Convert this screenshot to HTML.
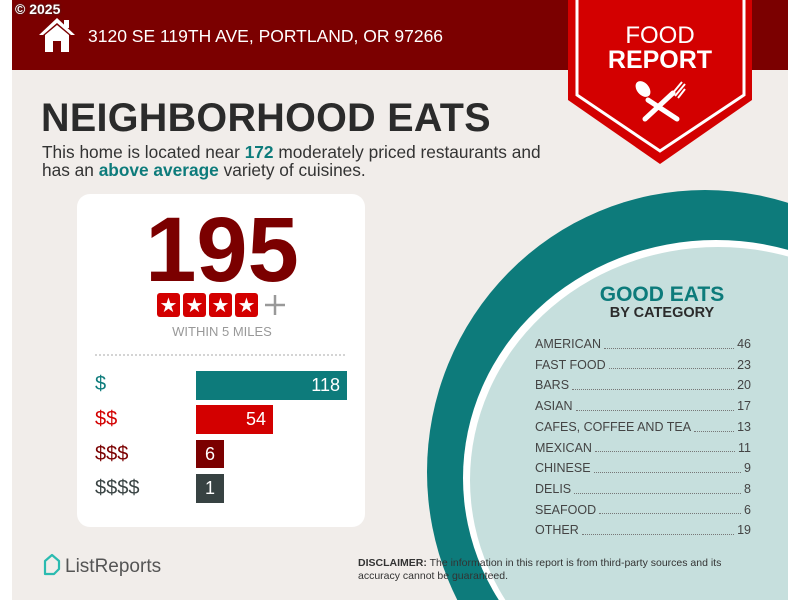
<!DOCTYPE html>
<html><head><meta charset="utf-8"><style>
*{margin:0;padding:0;box-sizing:border-box}
body{width:800px;height:600px;background:#fff;position:relative;overflow:hidden;font-family:"Liberation Sans",sans-serif}
.abs{position:absolute}
.t{white-space:nowrap}
</style></head><body>
<div class="abs" style="left:12px;top:0;width:776px;height:600px;background:#f1edea"></div>
<div class="abs" style="left:12px;top:0;width:776px;height:70px;background:#7b0000"></div>
<svg class="abs" style="left:0;top:0" width="800" height="600">
  <defs><clipPath id="c"><rect x="12" y="70" width="776" height="530"/></clipPath></defs>
  <g clip-path="url(#c)">
    <ellipse cx="705" cy="472" rx="278" ry="282" fill="#0d7b7b"/>
    <ellipse cx="716" cy="478" rx="253" ry="238" fill="#ffffff"/>
    <ellipse cx="718" cy="480" rx="248" ry="233" fill="#c6dfdd"/>
  </g>
  <polygon points="568,0 752,0 752,100 660,164 568,100" fill="#d30000"/>
  <polyline points="577,0 577,95 660,151 744,95 744,0" fill="none" stroke="#fff" stroke-width="3"/>
  <g stroke="#fff" stroke-width="5" stroke-linecap="round" fill="#fff">
    <line x1="648" y1="100" x2="677" y2="119"/>
    <line x1="673" y1="93" x2="645" y2="119"/>
  </g>
  <ellipse cx="643" cy="89" rx="6" ry="9" transform="rotate(-40 643 89)" fill="#fff"/>
  <path d="M672 94 l10 -12 M675 96 l10 -12 M678 98 l7 -9" stroke="#fff" stroke-width="2"/>
  <path d="M39 35 L57 18 L75 35 L71 35 L57 23 L43 35Z" fill="#fff"/>
  <rect x="64" y="20" width="5" height="8" fill="#fff"/>
  <path d="M45 35 L57 25 L69 35 L69 52 L61 52 L61 41 L53 41 L53 52 L45 52Z" fill="#fff"/>
</svg>
<div class="abs t" style="left:15px;top:1px;color:#fff;font-weight:bold;font-size:14px;text-shadow:0 0 2px #333">© 2025</div>
<div class="abs t" style="left:88px;top:26px;color:#fff;font-size:17.5px">3120 SE 119TH AVE, PORTLAND, OR 97266</div>
<div class="abs t" style="left:568px;top:24px;width:184px;text-align:center;color:#fff;font-size:24px;line-height:24px">FOOD<br><b style="font-size:25px">REPORT</b></div>
<div class="abs t" style="left:41px;top:96px;color:#2b2b2b;font-weight:bold;font-size:39.5px;letter-spacing:0.3px">NEIGHBORHOOD EATS</div>
<div class="abs t" style="left:42px;top:143px;color:#333;font-size:17.3px;line-height:18px">This home is located near <b style="color:#0d7b7b">172</b> moderately priced restaurants and<br>has an <b style="color:#0d7b7b">above average</b> variety of cuisines.</div>
<div class="abs" style="left:77px;top:194px;width:288px;height:333px;background:#fff;border-radius:13px"></div>
<div class="abs t" style="left:77px;top:200px;width:290px;text-align:center;color:#7b0000;font-weight:bold;font-size:92px;line-height:100px">195</div>
<div class="abs t" style="left:77px;top:324px;width:290px;text-align:center;color:#999;font-size:13px">WITHIN 5 MILES</div>
<div class="abs t" style="left:95px;top:373px;color:#0d7b7b;font-size:20px">$</div>
<div class="abs t" style="left:95px;top:408px;color:#d30000;font-size:20px">$$</div>
<div class="abs t" style="left:95px;top:443px;color:#7b0000;font-size:20px">$$$</div>
<div class="abs t" style="left:95px;top:477px;color:#3a4444;font-size:20px">$$$$</div>
<div class="abs" style="left:196px;top:371px;width:151px;height:29px;background:#0d7b7b;color:#fff;font-size:18px;text-align:right;padding-right:7px;line-height:29px">118</div>
<div class="abs" style="left:196px;top:405px;width:77px;height:29px;background:#d30000;color:#fff;font-size:18px;text-align:right;padding-right:7px;line-height:29px">54</div>
<div class="abs" style="left:196px;top:440px;width:28px;height:28px;background:#7b0000;color:#fff;font-size:18px;text-align:center;line-height:28px">6</div>
<div class="abs" style="left:196px;top:474px;width:28px;height:29px;background:#374242;color:#fff;font-size:18px;text-align:center;line-height:29px">1</div>
<div class="abs t" style="left:560px;top:283px;width:204px;text-align:center;color:#0d7b7b;font-weight:bold;font-size:21px;line-height:24px">GOOD EATS</div>
<div class="abs t" style="left:560px;top:305px;width:204px;text-align:center;color:#2b2b2b;font-weight:bold;font-size:14.5px">BY CATEGORY</div>
<div class="abs" style="left:535px;top:334px;width:216px;color:#444;font-size:12.5px;line-height:20.7px">
<div style="display:flex"><span>AMERICAN</span><span style="flex:1;border-bottom:1px dotted #777;margin:0 3px 6px"></span><span>46</span></div>
<div style="display:flex"><span>FAST FOOD</span><span style="flex:1;border-bottom:1px dotted #777;margin:0 3px 6px"></span><span>23</span></div>
<div style="display:flex"><span>BARS</span><span style="flex:1;border-bottom:1px dotted #777;margin:0 3px 6px"></span><span>20</span></div>
<div style="display:flex"><span>ASIAN</span><span style="flex:1;border-bottom:1px dotted #777;margin:0 3px 6px"></span><span>17</span></div>
<div style="display:flex"><span>CAFES, COFFEE AND TEA</span><span style="flex:1;border-bottom:1px dotted #777;margin:0 3px 6px"></span><span>13</span></div>
<div style="display:flex"><span>MEXICAN</span><span style="flex:1;border-bottom:1px dotted #777;margin:0 3px 6px"></span><span>11</span></div>
<div style="display:flex"><span>CHINESE</span><span style="flex:1;border-bottom:1px dotted #777;margin:0 3px 6px"></span><span>9</span></div>
<div style="display:flex"><span>DELIS</span><span style="flex:1;border-bottom:1px dotted #777;margin:0 3px 6px"></span><span>8</span></div>
<div style="display:flex"><span>SEAFOOD</span><span style="flex:1;border-bottom:1px dotted #777;margin:0 3px 6px"></span><span>6</span></div>
<div style="display:flex"><span>OTHER</span><span style="flex:1;border-bottom:1px dotted #777;margin:0 3px 6px"></span><span>19</span></div>
</div>
<div class="abs t" style="left:65px;top:556px;color:#555;font-size:19px">ListReports</div>
<div class="abs t" style="left:358px;top:557px;color:#333;font-size:10.5px;line-height:13px"><b>DISCLAIMER:</b> The information in this report is from third-party sources and its<br>accuracy cannot be guaranteed.</div>
<svg class="abs" style="left:0;top:0" width="800" height="600">
  <g fill="#d30000">
    <rect x="157" y="293" width="23" height="24" rx="3"/>
    <rect x="183" y="293" width="23" height="24" rx="3"/>
    <rect x="209" y="293" width="23" height="24" rx="3"/>
    <rect x="235" y="293" width="23" height="24" rx="3"/>
  </g>
  <g fill="#fff" font-size="20" font-family="DejaVu Sans" text-anchor="middle">
    <text x="168.5" y="312">★</text><text x="194.5" y="312">★</text><text x="220.5" y="312">★</text><text x="246.5" y="312">★</text>
  </g>
  <path d="M265 305 h20 M275 295 v20" stroke="#999" stroke-width="2.5"/>
  <line x1="95" y1="355" x2="347" y2="355" stroke="#aaa" stroke-width="1" stroke-dasharray="2,2"/>
  <path d="M45 561 l7 -6 7 6 v8 l-5 5 h-9z" fill="none" stroke="#2bbbb0" stroke-width="2.2" stroke-linejoin="round"/>
</svg>
</body></html>
